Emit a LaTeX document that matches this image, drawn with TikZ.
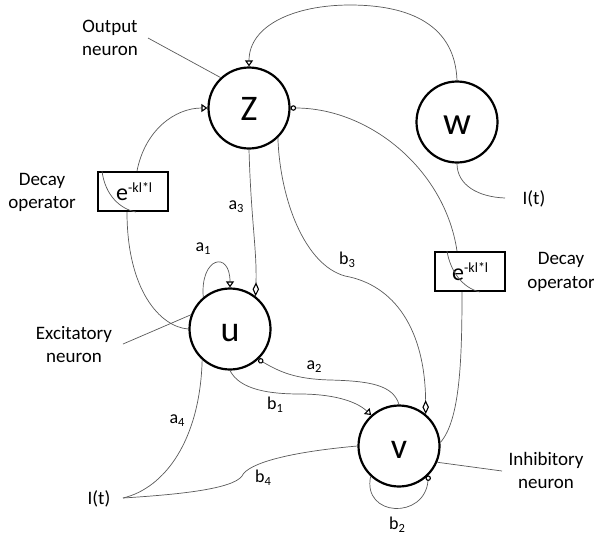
\documentclass[tikz,border=0pt]{standalone}
\usepackage{fontspec}
\setmainfont{Carlito}
\usetikzlibrary{arrows.meta}

% weight label with a lowered index
\newcommand\sublab[2]{#1\raisebox{-3pt}{\fontsize{12.5}{12.5}\selectfont #2}}
% decay factor printed inside the operator boxes
\newcommand\decaytext{e\raisebox{8pt}{\fontsize{14}{14}\selectfont -kl*l}}

\tikzset{
  opentri/.tip={Triangle[open,length=6pt,width=8pt,line width=1.1pt,color=black]},
  opendia/.tip={Diamond[open,length=14pt,width=6.5pt,line width=1.1pt,color=black]},
  openball/.tip={Circle[open,length=5.5pt,line width=1.1pt,color=black]},
  neuron/.style={circle,draw=black,line width=2.2pt,minimum size=81pt,inner sep=0pt,
    font=\fontsize{36}{36}\selectfont,text height=24pt,text depth=0pt},
  decaybox/.style={rectangle,draw=black,line width=2pt,minimum width=70pt,
    minimum height=39pt,inner sep=0pt},
  wire/.style={draw=black!65,line width=0.7pt},
  note/.style={font=\fontsize{19}{23.5}\selectfont,align=center,inner sep=0pt,text=black},
  lab/.style={font=\fontsize{18}{18}\selectfont,inner sep=0pt,text=black},
  dtext/.style={font=\fontsize{24}{24}\selectfont,inner sep=0pt,anchor=base west},
}

\begin{document}
\begin{tikzpicture}[x=1pt,y=-1pt]
\useasboundingbox (0,0) rectangle (594,539);

% neurons
\node[neuron] (Z) at (249,108) {Z};
\node[neuron] (W) at (457,122) {\fontsize{39}{39}\selectfont w};
\node[neuron] (U) at (230,329) {u};
\node[neuron] (V) at (399,446) {v};

% decay operators
\node[decaybox] (decayL) at (133,191.5) {};
\node[decaybox] (decayR) at (469.5,271.5) {};
\node[dtext] (dtL) at (116,200) {\decaytext};
\node[dtext] (dtR) at (452,280) {\decaytext};

% descriptive texts
\node[note] (outN) at (110,38) {Output\\neuron};
\node[note] (decLN) at (42,192.5) {Decay\\operator};
\node[note] (decRN) at (561,272) {Decay\\operator};
\node[note] (excN) at (74,344.5) {Excitatory\\neuron};
\node[note] (inhN) at (546,470.5) {Inhibitory\\neuron};
\node[note] (ItL) at (99,499) {I(t)};
\node[note] (ItR) at (534,199) {I(t)};

% free ends
\coordinate (Iin) at (123,498);
\coordinate (wIn) at (505,198);
\coordinate (outTip) at (148,38);
\coordinate (excTip) at (123,344);
\coordinate (inhTip) at (502,471);

% pointer lines
\draw[wire] (Z.133) -- (outTip);
\draw[wire] (U.160) -- (excTip);
\draw[wire] (V.-23) -- (inhTip);

% w feeds Z from above
\draw[wire,-{opentri}] (W.north) .. controls (455,25) and (410,5) .. (350,5)
  .. controls (295,5) and (249,25) .. (Z.north);
\draw[wire] (W.south) .. controls (457,185) and (478,197) .. (wIn);

% excitatory loop through the left decay operator
\draw[wire] (U.west) .. controls (160,327) and (127,290) .. ([xshift=-6pt]decayL.south);
\draw[wire] ([xshift=5pt]decayL.north west) .. controls (105,195) and (120,209) .. ([xshift=3pt]decayL.south);
\draw[wire,-{opentri}] ([xshift=4pt]decayL.north) .. controls (145,130) and (175,108) .. (Z.west);

% inhibitory loop through the right decay operator
\draw[wire] (V.5) .. controls (460,420) and (462,360) .. ([xshift=-7.5pt]decayR.south);
\draw[wire] ([xshift=13.5pt]decayR.north west) .. controls (450,270) and (462,288) .. ([xshift=10.5pt]decayR.south);
\draw[wire,-{openball}] ([xshift=-12.5pt]decayR.north) .. controls (445,170) and (370,108) .. (Z.east);

% weights
\draw[wire,-{opendia}] (Z.south) .. controls (251,220) and (257,250) .. (U.52);
\draw[wire,-{opendia}] (Z.-46) .. controls (280,200) and (305,265) .. (345,276)
  .. controls (395,285) and (425,330) .. (V.50);
\draw[wire,-{opentri}] (U.130) .. controls (200,257) and (230,250) .. (U.north);
\draw[wire,-{openball}] (V.north) .. controls (393,385) and (370,381) .. (330,380)
  .. controls (295,379) and (280,372) .. (U.-47);
\draw[wire,-{opentri}] (U.south) .. controls (240,390) and (270,394) .. (300,394)
  .. controls (330,394) and (355,400) .. (V.132);
\draw[wire] (Iin) .. controls (165,488) and (200,440) .. (U.228);
\draw[wire] (Iin) .. controls (170,495) and (232,490) .. (242,476)
  .. controls (248,463) and (290,452) .. (V.west);
\draw[wire,-{openball}] (V.227) .. controls (362,517) and (425,520) .. (V.-45);

% weight labels
\node[lab] (la1) at (203,249) {\sublab{a}{1}};
\node[lab] (la2) at (314,367) {\sublab{a}{2}};
\node[lab] (la3) at (236,207) {\sublab{a}{3}};
\node[lab] (la4) at (177,421) {\sublab{a}{4}};
\node[lab] (lb1) at (275,405) {\sublab{b}{1}};
\node[lab] (lb2) at (397,525) {\sublab{b}{2}};
\node[lab] (lb3) at (347,260) {\sublab{b}{3}};
\node[lab] (lb4) at (263,478) {\sublab{b}{4}};
\end{tikzpicture}
\end{document}
